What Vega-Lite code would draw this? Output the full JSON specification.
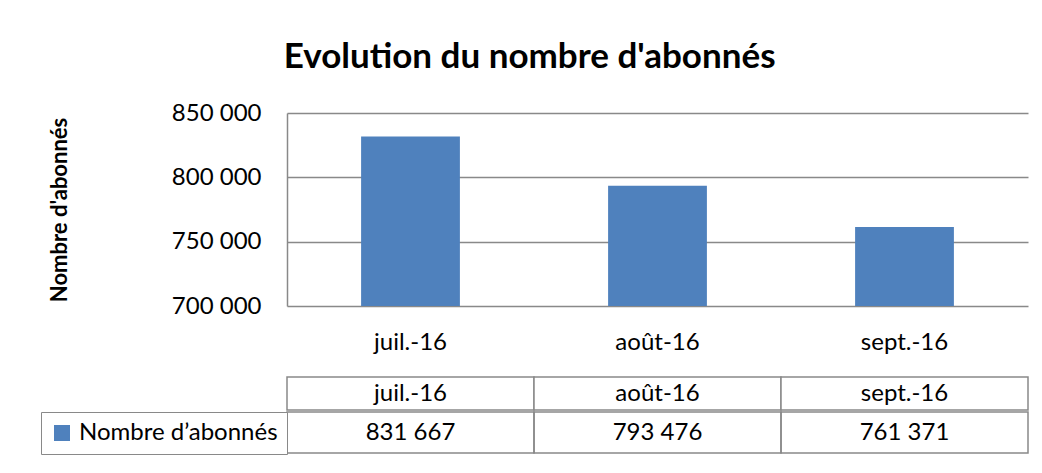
{
  "$schema": "https://vega.github.io/schema/vega-lite/v6.json",
  "background": "white",
  "padding": {"left": 40, "top": 40, "right": 5, "bottom": 5},
  "data": {
    "values": [
      {"mois": "juil.-16", "abonnes": 831667, "serie": "Nombre d’abonnés"},
      {"mois": "août-16", "abonnes": 793476, "serie": "Nombre d’abonnés"},
      {"mois": "sept.-16", "abonnes": 761371, "serie": "Nombre d’abonnés"}
    ]
  },
  "title": {
    "text": "Evolution du nombre d'abonnés",
    "font": "Lato",
    "fontSize": 35,
    "fontWeight": "bold",
    "color": "black",
    "anchor": "middle",
    "dx": -5,
    "offset": 26
  },
  "spacing": 0,
  "resolve": {"scale": {"fill": "independent"}, "legend": {"fill": "independent"}},
  "vconcat": [
    {
      "width": 741,
      "height": 193,
      "mark": {"type": "bar", "color": "#4F81BD"},
      "encoding": {
        "x": {
          "field": "mois",
          "type": "ordinal",
          "sort": null,
          "scale": {"paddingInner": 0.6, "paddingOuter": 0.3},
          "axis": {
            "title": "\u00a0",
            "titleFontSize": 10,
            "titlePadding": 12,
            "domain": false,
            "ticks": false,
            "tickSize": 0,
            "labelAngle": 0,
            "labelFontSize": 24,
            "labelPadding": 24,
            "labelFont": "Lato",
            "labelColor": "black"
          }
        },
        "y": {
          "field": "abonnes",
          "type": "quantitative",
          "scale": {"domain": [700000, 850000], "nice": false, "zero": false},
          "axis": {
            "values": [700000, 750000, 800000, 850000],
            "format": ",d",
            "title": "Nombre d'abonnés",
            "titleFont": "Lato",
            "titleFontSize": 22,
            "titleFontWeight": "bold",
            "titleColor": "black",
            "titlePadding": 100,
            "domain": true,
            "domainColor": "#898989",
            "domainWidth": 1.5,
            "ticks": false,
            "tickSize": 0,
            "grid": true,
            "gridColor": "#898989",
            "gridWidth": 1.5,
            "labelFont": "Lato",
            "labelFontSize": 24,
            "labelPadding": 26,
            "labelColor": "black"
          }
        },
        "y2": {"datum": 700000}
      }
    },
    {
      "width": 741,
      "height": 33,
      "layer": [
        {
          "mark": {"type": "rect", "fill": "white", "stroke": "#898989", "strokeWidth": 1.5},
          "encoding": {
            "x": {"field": "mois", "type": "ordinal", "sort": null, "scale": {"paddingInner": 0, "paddingOuter": 0}, "axis": null}
          }
        },
        {
          "mark": {"type": "text", "font": "Lato", "fontSize": 24, "color": "black"},
          "encoding": {
            "x": {"field": "mois", "type": "ordinal", "sort": null, "scale": {"paddingInner": 0, "paddingOuter": 0}, "axis": null},
            "text": {"field": "mois"}
          }
        }
      ]
    },
    {
      "width": 741,
      "height": 41,
      "layer": [
        {
          "mark": {"type": "rect", "fillOpacity": 0, "stroke": "#898989", "strokeWidth": 1.5},
          "encoding": {
            "x": {"field": "mois", "type": "ordinal", "sort": null, "scale": {"paddingInner": 0, "paddingOuter": 0}, "axis": null},
            "fill": {
              "field": "serie",
              "type": "nominal",
              "scale": {"range": ["#4F81BD"]},
              "legend": {
                "orient": "left",
                "offset": 0,
                "title": null,
                "symbolType": "square",
                "symbolSize": 256,
                "symbolStrokeWidth": 0,
                "symbolOpacity": 1,
                "labelFont": "Lato",
                "labelFontSize": 24,
                "labelColor": "black",
                "labelLimit": 400,
                "labelOffset": 5,
                "strokeColor": "#898989",
                "fillColor": "white",
                "padding": 9
              }
            }
          }
        },
        {
          "mark": {"type": "text", "font": "Lato", "fontSize": 24, "color": "black"},
          "encoding": {
            "x": {"field": "mois", "type": "ordinal", "sort": null, "scale": {"paddingInner": 0, "paddingOuter": 0}, "axis": null},
            "text": {"field": "abonnes", "type": "quantitative", "format": ",d"}
          }
        }
      ]
    }
  ],
  "config": {
    "view": {"stroke": null},
    "font": "Lato",
    "locale": {
      "number": {"decimal": ",", "thousands": " ", "grouping": [3], "currency": ["", " €"]}
    }
  }
}
